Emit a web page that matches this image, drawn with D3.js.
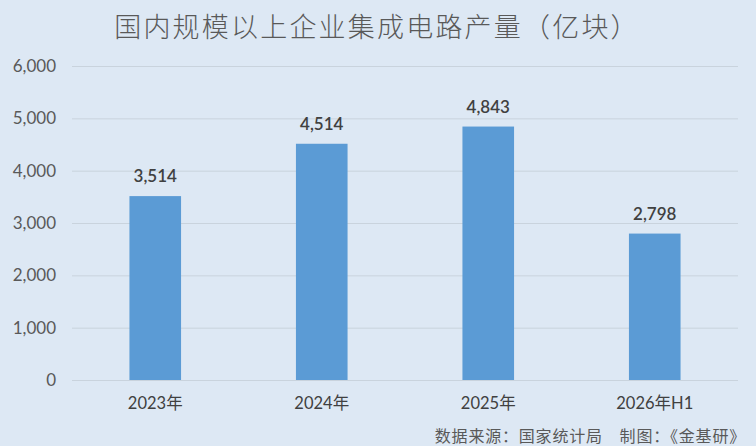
<!DOCTYPE html>
<html><head><meta charset="utf-8">
<script src="https://cdn.jsdelivr.net/npm/d3@7"></script>
<style>
html,body{margin:0;padding:0;background:#dde8f4;}
svg{display:block;}
</style></head>
<body>
<svg id="c" width="756" height="446"></svg>
<script>
const categories = ["2023年","2024年","2025年","2026年H1"];
const values = [3514, 4514, 4843, 2798];
const yTicks = [0,1000,2000,3000,4000,5000,6000];
const title = "国内规模以上企业集成电路产量（亿块）";
const source = "数据来源：国家统计局　制图：《金基研》";

const svg = d3.select("#c");
const W = 756, H = 446;
svg.append("rect").attr("width",W).attr("height",H).attr("fill","#dde8f4");
const numFont = "Lato, 'Noto Sans CJK SC', sans-serif";
const cjkFont = "'Noto Sans CJK SC', sans-serif";

const x = d3.scaleBand().domain(categories).range([72,738]).paddingInner(0.69).paddingOuter(0.345);
const y = d3.scaleLinear().domain([0,6000]).range([380,66]);

// gridlines
svg.append("g").selectAll("line").data(yTicks).join("line")
  .attr("x1",72).attr("x2",738)
  .attr("y1",d=>y(d)+0.5).attr("y2",d=>y(d)+0.5)
  .attr("stroke","#c9d3dd").attr("stroke-width",1);

// y axis
const yAxis = d3.axisLeft(y).tickValues(yTicks).tickFormat(d3.format(",")).tickSize(0).tickPadding(0);
const ya = svg.append("g").attr("transform","translate(56,0)").call(yAxis);
ya.select(".domain").remove();
ya.selectAll("text").attr("font-family",numFont).attr("font-size",17).attr("fill","#595959");

// bars
svg.append("g").selectAll("rect").data(values).join("rect")
  .attr("x",(d,i)=>x(categories[i]))
  .attr("width",x.bandwidth())
  .attr("y",d=>y(d))
  .attr("height",d=>y(0)-y(d))
  .attr("fill","#5b9bd5");

// value labels
svg.append("g").selectAll("text").data(values).join("text")
  .attr("x",(d,i)=>x(categories[i])+x.bandwidth()/2)
  .attr("y",d=>y(d)-14)
  .attr("text-anchor","middle")
  .attr("font-family",numFont).attr("font-size",17).attr("font-weight",600)
  .attr("fill","#404040")
  .text(d=>d3.format(",")(d));

// x axis
const xAxis = d3.axisBottom(x).tickSize(0).tickPadding(0);
const xa = svg.append("g").attr("transform","translate(0,397)").call(xAxis);
xa.select(".domain").remove();
xa.selectAll("text").attr("font-family",numFont).attr("font-size",16.5).attr("fill","#404040").attr("dy","0.71em");

// title
svg.append("text").attr("x",377).attr("y",37).attr("text-anchor","middle")
  .attr("font-family",cjkFont).attr("font-size",27).attr("font-weight",300).attr("letter-spacing",2.2).attr("fill","#595959")
  .text(title);

// source
svg.append("text").attr("x",746).attr("y",442).attr("text-anchor","end")
  .attr("font-family",cjkFont).attr("font-size",16).attr("letter-spacing",0.8).attr("fill","#595959")
  .text(source);
</script>
</body></html>
